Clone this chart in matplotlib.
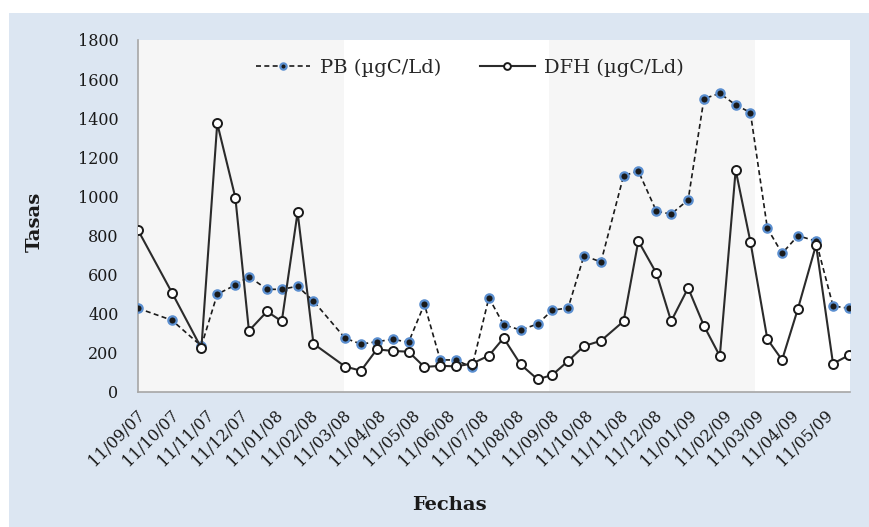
import numpy as np
import matplotlib
matplotlib.use('Agg')
import matplotlib.pyplot as plt
import matplotlib.dates as mdates
import matplotlib.transforms as mtransforms
from matplotlib.patches import Rectangle

plt.rcParams['font.family'] = ['DejaVu Serif']

# Fechas de muestreo
fechas = np.array([
    '2007-09-11', '2007-10-11', '2007-11-06', '2007-11-20', '2007-12-06',
    '2007-12-18', '2008-01-03', '2008-01-16', '2008-01-30', '2008-02-13',
    '2008-03-12', '2008-03-26', '2008-04-09', '2008-04-23', '2008-05-07',
    '2008-05-21', '2008-06-04', '2008-06-18', '2008-07-02', '2008-07-17',
    '2008-07-30', '2008-08-14', '2008-08-29', '2008-09-11', '2008-09-25',
    '2008-10-09', '2008-10-24', '2008-11-13', '2008-11-26', '2008-12-12',
    '2008-12-25', '2009-01-09', '2009-01-23', '2009-02-06', '2009-02-20',
    '2009-03-05', '2009-03-20', '2009-04-02', '2009-04-16', '2009-05-02',
    '2009-05-17', '2009-05-31'], dtype='datetime64[D]')

# Producción bacteriana
pb = [428, 367, 235, 500, 547, 590, 525, 525, 541, 465,
      275, 245, 257, 270, 254, 449, 164, 164, 126, 482,
      344, 317, 348, 418, 430, 697, 665, 1106, 1130, 924,
      910, 982, 1500, 1527, 1468, 1429, 837, 709, 799, 772,
      440, 428]

# Demanda de fósforo heterotrófica
dfh = [828, 508, 224, 1374, 994, 313, 412, 361, 919, 247,
       130, 109, 218, 210, 206, 128, 134, 131, 145, 186,
       276, 141, 65, 87, 159, 235, 262, 362, 772, 607,
       362, 532, 338, 184, 1135, 769, 270, 164, 426, 752,
       145, 188]

# Periodos sombreados
periodos = [('2007-09-11', '2008-03-11'), ('2008-09-08', '2009-03-09')]

fig = plt.figure(figsize=(8.69, 5.27), dpi=100)
fig.patch.set_facecolor('white')
fondo = Rectangle((9 / 869, 0), 1, 1 - 13 / 527, transform=fig.transFigure,
                  facecolor='#dce6f2', edgecolor='none', zorder=-10)
fig.patches.append(fondo)

ax = fig.add_axes([138 / 869, 1 - 392 / 527, (850 - 138) / 869, (392 - 40) / 527])
ax.set_facecolor('white')

for ini, fin in periodos:
    ax.axvspan(np.datetime64(ini), np.datetime64(fin), color='#f6f6f6', lw=0, zorder=0)

ax.plot(fechas, pb, ls='--', dashes=(3, 2), color='#1a1a1a', lw=1.2, marker='o', ms=6,
        mfc='#1a1a1a', mec='#5b8fd0', mew=1.6, label='PB (µgC/Ld)', zorder=3)
ax.plot(fechas, dfh, ls='-', color='#2b2b2b', lw=1.5, marker='o', ms=6.5,
        mfc='white', mec='#1a1a1a', mew=1.4, label='DFH (µgC/Ld)', zorder=4)

ax.set_xlim(np.datetime64('2007-09-11'), np.datetime64('2009-06-01'))
ax.set_ylim(0, 1800)
ax.set_yticks(np.arange(0, 1801, 200))
ax.xaxis.set_major_locator(mdates.MonthLocator(bymonthday=11))
ax.xaxis.set_major_formatter(mdates.DateFormatter('%d/%m/%y'))

ax.tick_params(axis='y', length=0, pad=14, labelsize=11.5, labelcolor='#1a1a1a')
ax.tick_params(axis='x', length=0, pad=15, labelsize=11.5, labelcolor='#1a1a1a')
desplaza = mtransforms.ScaledTranslation(4 / 100, 0, fig.dpi_scale_trans)
for lbl in ax.get_xticklabels():
    lbl.set_rotation(45)
    lbl.set_ha('right')
    lbl.set_va('center')
    lbl.set_rotation_mode('anchor')
    lbl.set_transform(lbl.get_transform() + desplaza)

for s in ['top', 'right']:
    ax.spines[s].set_visible(False)
for s in ['left', 'bottom']:
    ax.spines[s].set_color('#a6a6a6')
    ax.spines[s].set_linewidth(1.2)

fig.text(449 / 869, 1 - 505 / 527, 'Fechas', ha='center', va='center',
         fontsize=14, fontweight='bold', color='#1a1a1a')
fig.text(35 / 869, 1 - 222 / 527, 'Tasas', ha='center', va='center', rotation=90,
         fontsize=14, fontweight='bold', color='#1a1a1a')

leg = ax.legend(loc='center', bbox_to_anchor=(470 / 869, 1 - 68 / 527),
                bbox_transform=fig.transFigure, ncol=2, frameon=False,
                fontsize=14, handlelength=2.8, handletextpad=0.5, columnspacing=2.0,
                markerscale=0.75)
for t in leg.get_texts():
    t.set_color('#262626')

fig.savefig('out.png', dpi=100, facecolor=fig.get_facecolor())
